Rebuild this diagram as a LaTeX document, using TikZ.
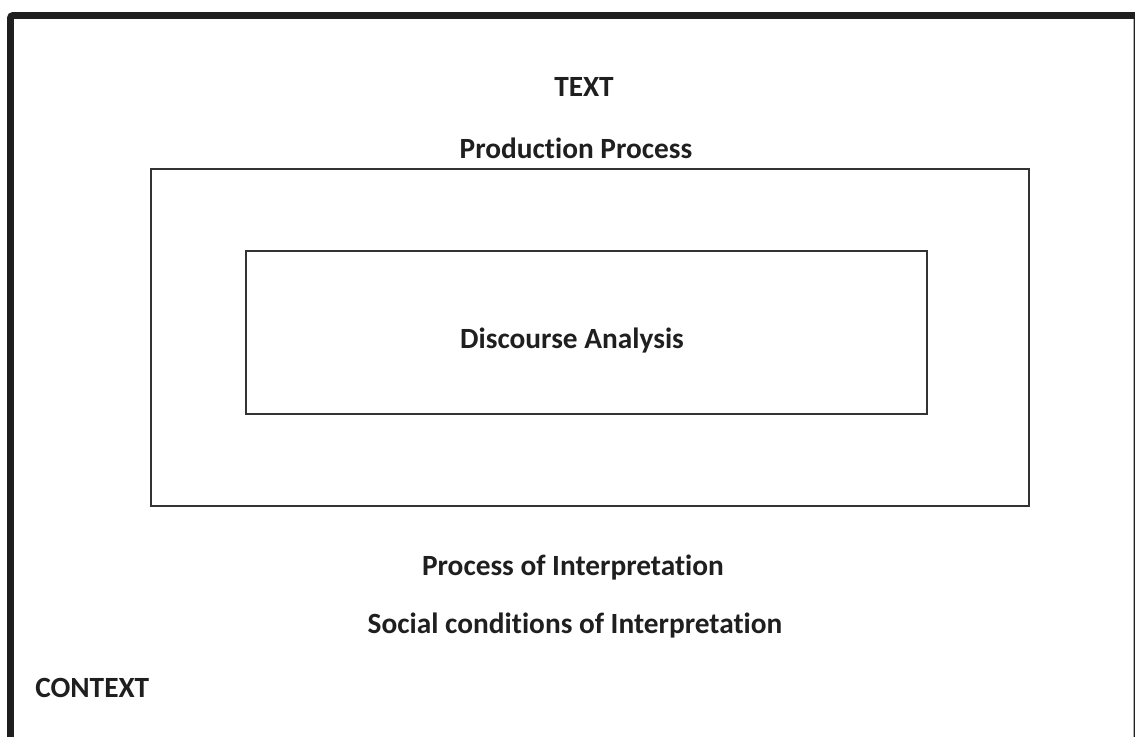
\documentclass[tikz,border=0pt]{standalone}
\usepackage{fontspec}
\setmainfont{Carlito}[Ligatures=NoCommon]
\begin{document}
\begin{tikzpicture}[x=0.75pt,y=-0.75pt,
  lbl/.style={font=\fontsize{22}{26}\selectfont\bfseries, text=black!88, inner sep=0pt},
  box/.style={draw=black!80, line width=0.9pt}]
\useasboundingbox (0,0) rectangle (1135,737);
\begin{scope}
\clip (0,0) rectangle (1135,737);
\draw[line width=5.2pt, draw=black!88, rounded corners=2pt] (10.5,760) -- (10.5,15.5) -- (1137,15.5) -- (1137,760);
\end{scope}
\node[box, minimum width=878*0.75pt, minimum height=337*0.75pt, inner sep=0pt] (outer) at (590,337.5) {};
\node[box, minimum width=681*0.75pt, minimum height=163*0.75pt, inner sep=0pt] (inner) at (586.5,332.5) {};
\node[lbl] (text) at (584,87) {TEXT};
\node[lbl] (prod) at (576,148) {Production Process};
\node[lbl] (disc) at (572,341) {Discourse Analysis};
\node[lbl] (proc) at (573,568) {Process of Interpretation};
\node[lbl] (soc) at (575,626) {Social conditions of Interpretation};
\node[lbl, anchor=west] (ctx) at (35,688) {CONTEXT};
\end{tikzpicture}
\end{document}
